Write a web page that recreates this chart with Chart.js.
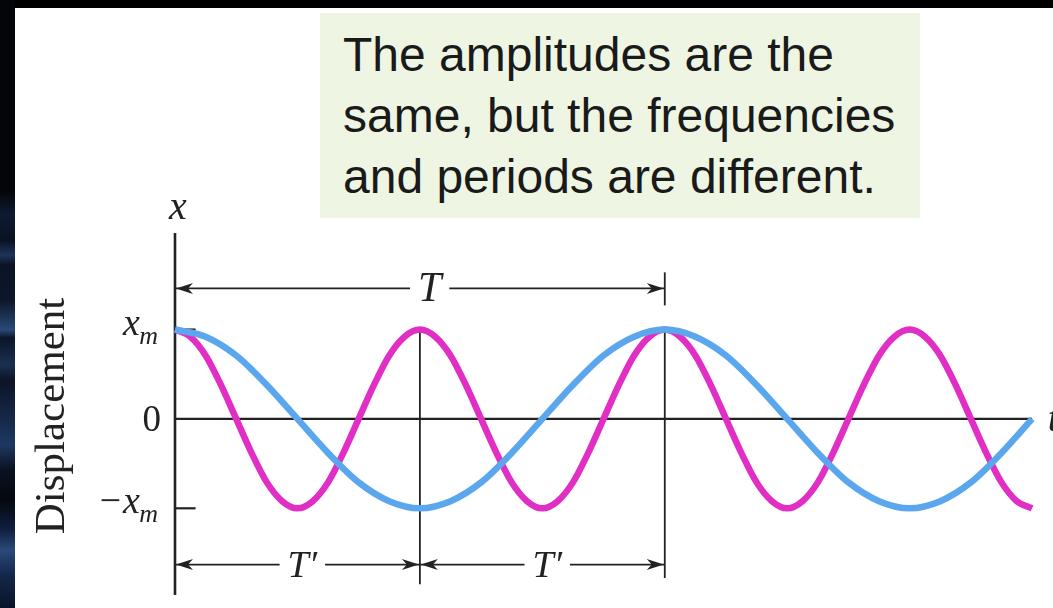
<!DOCTYPE html>
<html>
<head>
<meta charset="utf-8">
<title>Displacement vs time</title>
<script src="https://cdn.jsdelivr.net/npm/chart.js@4/dist/chart.umd.min.js"></script>
<style>
  html, body { margin: 0; padding: 0; background: #000; }
  body { width: 1053px; height: 608px; position: relative; overflow: hidden; }
  #strip {
    position: absolute; left: 0; top: 0; width: 15px; height: 608px;
    background: linear-gradient(to bottom,
      #040509 0px, #040509 190px, #0f1a30 215px, #0a1222 240px, #1d3358 255px,
      #0b1324 265px, #0d1628 300px, #2a4a78 330px, #0b1526 338px, #1b3050 365px,
      #0c1425 380px, #16294a 420px, #1e3862 445px, #0a1120 470px, #05080f 500px,
      #102040 530px, #2a4a7a 550px, #14264a 575px, #0a1428 608px);
  }
  #sheet { position: absolute; left: 15px; top: 8px; right: 0; bottom: 0; background: #fff; }
  #note {
    position: absolute; left: 320px; top: 13px; width: 577px; height: 194px;
    padding: 11px 0 0 23px;
    background: #eef5e3;
    font-family: "Liberation Sans", Arial, sans-serif;
    font-size: 48px; line-height: 61px; color: #1a1a1a;
  }
  #wrap { position: absolute; left: 0; top: 0; width: 1053px; height: 608px; }
</style>
</head>
<body>
<div id="strip"></div>
<div id="sheet"></div>
<div id="note">The amplitudes are the<br>same, but the frequencies<br>and periods are different.</div>
<div id="wrap"><canvas id="oscChart"></canvas></div>

<script>
// time in units of the slow period T
const tSlow = [0, 0.0625, 0.125, 0.1875, 0.25, 0.3125, 0.375, 0.4375, 0.5,
  0.5625, 0.625, 0.6875, 0.75, 0.8125, 0.875, 0.9375, 1,
  1.0625, 1.125, 1.1875, 1.25, 1.3125, 1.375, 1.4375, 1.5,
  1.5625, 1.625, 1.6875, 1.75];

// displacement in units of x_m, slow oscillation (period T)
const slowDisp = [1, 0.92, 0.71, 0.38, 0, -0.38, -0.71, -0.92, -1,
  -0.92, -0.71, -0.38, 0, 0.38, 0.71, 0.92, 1,
  0.92, 0.71, 0.38, 0, -0.38, -0.71, -0.92, -1,
  -0.92, -0.71, -0.38, 0];

// finer time grid for the fast oscillation
const tFast = [0, 0.03125, 0.0625, 0.09375, 0.125, 0.15625, 0.1875, 0.21875, 0.25,
  0.28125, 0.3125, 0.34375, 0.375, 0.40625, 0.4375, 0.46875, 0.5,
  0.53125, 0.5625, 0.59375, 0.625, 0.65625, 0.6875, 0.71875, 0.75,
  0.78125, 0.8125, 0.84375, 0.875, 0.90625, 0.9375, 0.96875, 1,
  1.03125, 1.0625, 1.09375, 1.125, 1.15625, 1.1875, 1.21875, 1.25,
  1.28125, 1.3125, 1.34375, 1.375, 1.40625, 1.4375, 1.46875, 1.5,
  1.53125, 1.5625, 1.59375, 1.625, 1.65625, 1.6875, 1.71875, 1.75];

// fast oscillation (period T' = T/2)
const fastDisp = [1, 0.92, 0.71, 0.38, 0, -0.38, -0.71, -0.92, -1,
  -0.92, -0.71, -0.38, 0, 0.38, 0.71, 0.92, 1,
  0.92, 0.71, 0.38, 0, -0.38, -0.71, -0.92, -1,
  -0.92, -0.71, -0.38, 0, 0.38, 0.71, 0.92, 1,
  0.92, 0.71, 0.38, 0, -0.38, -0.71, -0.92, -1,
  -0.92, -0.71, -0.38, 0, 0.38, 0.71, 0.92, 1,
  0.92, 0.71, 0.38, 0, -0.38, -0.71, -0.92, -1];

// marks on the displacement axis
const yTicks = [1, 0, -1];
const yTickLabels = [['x', 'm'], ['0', ''], ['\u2212x', 'm']];

// period brackets: [start, end, label, height]
const periodT = [0, 1, 'T', 1.46];
const periodsTp = [[0, 0.5, 'T\u2032', -1.63], [0.5, 1, 'T\u2032', -1.63]];

const INK = '#222';
const SERIF = '"Liberation Serif", "Times New Roman", serif';

function arrowHead(ctx, x, y, dir) {
  ctx.beginPath();
  ctx.moveTo(x, y);
  ctx.lineTo(x - dir * 17, y - 5.5);
  ctx.lineTo(x - dir * 12, y);
  ctx.lineTo(x - dir * 17, y + 5.5);
  ctx.closePath();
  ctx.fill();
}

function bracket(ctx, xs, ys, seg, italicPx) {
  const x1 = xs.getPixelForValue(seg[0]);
  const x2 = xs.getPixelForValue(seg[1]);
  const y = ys.getPixelForValue(seg[3]);
  const mid = x1 + (x2 - x1) * 0.52;
  ctx.font = 'italic ' + italicPx + 'px ' + SERIF;
  const half = ctx.measureText(seg[2]).width / 2 + 8;
  ctx.lineWidth = 1.6;
  ctx.beginPath();
  ctx.moveTo(x1, y); ctx.lineTo(mid - half, y);
  ctx.moveTo(mid + half, y); ctx.lineTo(x2, y);
  ctx.stroke();
  arrowHead(ctx, x1 + 1, y, -1);
  arrowHead(ctx, x2 - 1, y, 1);
  ctx.textAlign = 'center';
  ctx.textBaseline = 'middle';
  ctx.fillText(seg[2], mid, y + 2);
}

const guides = {
  id: 'guides',
  beforeDatasetsDraw(chart) {
    const ctx = chart.ctx;
    const xs = chart.scales.x, ys = chart.scales.y;
    const area = chart.chartArea;
    const x0 = xs.getPixelForValue(0);
    const yZero = ys.getPixelForValue(0);
    ctx.save();
    ctx.strokeStyle = INK;
    ctx.fillStyle = INK;

    // displacement axis and time axis
    ctx.lineWidth = 2.6;
    ctx.beginPath();
    ctx.moveTo(x0, area.top); ctx.lineTo(x0, area.bottom);
    ctx.stroke();
    ctx.lineWidth = 2.2;
    ctx.beginPath();
    ctx.moveTo(x0, yZero); ctx.lineTo(xs.getPixelForValue(tSlow[tSlow.length - 1]), yZero);
    ctx.stroke();

    // short ticks at +/- x_m
    ctx.lineWidth = 2.2;
    [1, -1].forEach(v => {
      const y = ys.getPixelForValue(v);
      ctx.beginPath();
      ctx.moveTo(x0, y); ctx.lineTo(xs.getPixelForValue(0.042), y);
      ctx.stroke();
    });

    // vertical markers at T' and T
    ctx.lineWidth = 1.8;
    [[0.5, -1.85], [1, -1.78]].forEach(([t, low]) => {
      const x = xs.getPixelForValue(t);
      ctx.beginPath();
      ctx.moveTo(x, ys.getPixelForValue(1)); ctx.lineTo(x, ys.getPixelForValue(low));
      ctx.stroke();
    });
    const xT = xs.getPixelForValue(periodT[1]);
    ctx.beginPath();
    ctx.moveTo(xT, ys.getPixelForValue(1.64)); ctx.lineTo(xT, ys.getPixelForValue(1.27));
    ctx.stroke();

    // period brackets
    bracket(ctx, xs, ys, periodT, 42);
    periodsTp.forEach(p => bracket(ctx, xs, ys, p, 38));

    // tick labels with subscript m
    ctx.textBaseline = 'alphabetic';
    yTicks.forEach((v, i) => {
      const y = ys.getPixelForValue(v);
      const [main, sub] = yTickLabels[i];
      if (!sub) {
        ctx.font = '37px ' + SERIF;
        ctx.textAlign = 'right';
        ctx.fillText(main, x0 - 14, y + 12);
        return;
      }
      ctx.font = '26px ' + SERIF;
      const subW = ctx.measureText(sub).width;
      ctx.font = 'italic 26px ' + SERIF;
      ctx.textAlign = 'right';
      ctx.fillText(sub, x0 - 17, y + 14);
      ctx.font = 'italic 38px ' + SERIF;
      ctx.fillText(main, x0 - 17 - subW + 2, y + 5);
    });

    // axis letters
    ctx.font = 'italic 40px ' + SERIF;
    ctx.textAlign = 'center';
    ctx.fillText('x', x0 + 3, area.top - 14);
    ctx.textAlign = 'left';
    ctx.fillText('t', xs.getPixelForValue(1.782), yZero + 12);

    // vertical axis title
    ctx.save();
    ctx.translate(64, (area.top + area.bottom) / 2 + 2);
    ctx.rotate(-Math.PI / 2);
    ctx.font = '43px ' + SERIF;
    ctx.textAlign = 'center';
    ctx.textBaseline = 'alphabetic';
    ctx.fillText('Displacement', 0, 0);
    ctx.restore();

    ctx.restore();
  }
};

const ctx = document.getElementById('oscChart').getContext('2d');
new Chart(ctx, {
  type: 'line',
  data: {
    datasets: [
      {
        label: 'T',
        data: tSlow.map((t, i) => ({ x: t, y: slowDisp[i] })),
        borderColor: '#5ba7ee',
        borderWidth: 6.5,
        pointRadius: 0,
        cubicInterpolationMode: 'monotone',
        clip: false
      },
      {
        label: "T'",
        data: tFast.map((t, i) => ({ x: t, y: fastDisp[i] })),
        borderColor: '#e12fc6',
        borderWidth: 6.5,
        pointRadius: 0,
        cubicInterpolationMode: 'monotone',
        clip: false
      }
    ]
  },
  options: {
    responsive: true,
    maintainAspectRatio: false,
    animation: false,
    layout: { padding: { left: 175, right: 16, top: 233, bottom: 13 } },
    plugins: { legend: { display: false }, tooltip: { enabled: false } },
    scales: {
      x: { type: 'linear', min: 0, max: 1.76, display: false },
      y: { type: 'linear', min: -1.97, max: 2.08, display: false }
    }
  },
  plugins: [guides]
});
</script>
</body>
</html>
